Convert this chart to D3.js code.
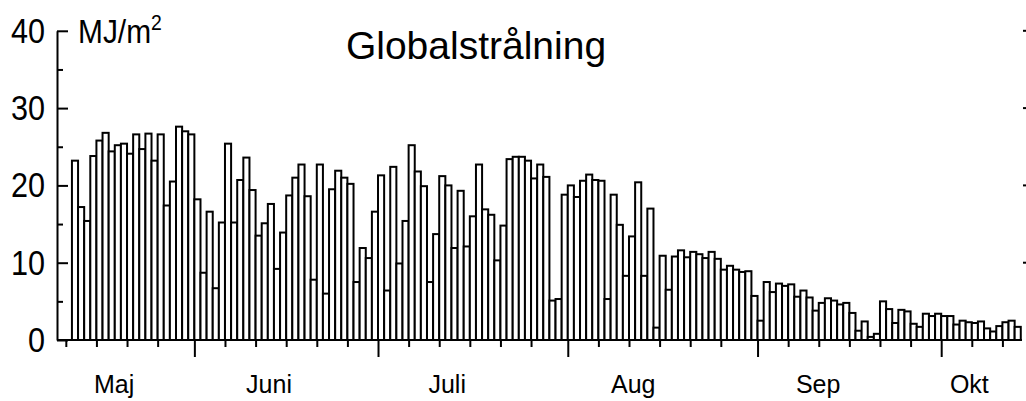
<!DOCTYPE html>
<html>
<head>
<meta charset="utf-8">
<script src="https://cdn.jsdelivr.net/npm/d3@7"></script>
<style>
  body { margin: 0; background: #fff; }
  svg { display: block; }
  text { font-family: "Liberation Sans", Arial, sans-serif; fill: #000; }
</style>
</head>
<body>
<div id="chart"></div>
<script>
// Daily global radiation, MJ/m2, one value per day starting 12 May
var firstDay = 11; // days after 1 May
var radiation = [
    23.2, 17.2, 15.4, 23.8, 25.8, 26.8, 24.4, 25.2, 25.4, 24.1,
    26.6, 24.7, 26.7, 23.2, 26.6, 17.4, 20.5, 27.6, 27.0, 26.6,
    18.2, 8.7, 16.6, 6.7, 15.2, 25.4, 15.2, 20.7, 23.6, 19.4,
    13.5, 15.1, 17.6, 9.2, 13.9, 18.7, 21.0, 22.7, 18.6, 7.8,
    22.7, 6.0, 19.5, 21.9, 21.0, 20.2, 7.5, 11.9, 10.6, 16.6,
    21.3, 6.4, 22.4, 9.9, 15.4, 25.2, 21.8, 19.9, 7.5, 13.7,
    21.2, 20.0, 11.9, 19.3, 12.1, 16.0, 22.7, 16.9, 16.2, 10.3,
    14.8, 23.4, 23.7, 23.7, 23.2, 20.9, 22.7, 21.1, 5.1, 5.3,
    18.8, 20.0, 18.5, 20.6, 21.4, 20.7, 20.6, 5.3, 18.8, 14.9,
    8.3, 13.4, 20.4, 8.3, 17.0, 1.6, 10.9, 6.5, 10.8, 11.6,
    10.7, 11.4, 11.1, 10.6, 11.4, 10.5, 9.1, 9.6, 9.1, 8.8,
    8.9, 5.7, 2.5, 7.5, 6.2, 7.3, 7.0, 7.2, 5.6, 6.4,
    5.5, 3.8, 4.8, 5.4, 5.1, 4.6, 4.8, 3.5, 1.2, 2.4,
    0.4, 0.8, 5.0, 4.0, 2.2, 3.9, 3.7, 2.1, 1.7, 3.4,
    3.1, 3.4, 3.1, 3.1, 2.0, 2.5, 2.3, 2.2, 2.4, 1.5,
    1.1, 1.8, 2.3, 2.5, 1.7
];

// Months on the x-axis and where their names sit (days after 1 May)
var monthNames = ["Maj", "Juni", "Juli", "Aug", "Sep", "Okt"];
var monthLengths = [31, 30, 31, 31, 30, 31];
var monthLabelDays = [17.9, 43.2, 72.3, 102.7, 132.9, 157.6];

var yMajorTicks = [0, 10, 20, 30, 40];
var yMinorTicks = [5, 15, 25, 35];

var width = 1026, height = 401;

var svg = d3.select("#chart")
    .append("svg")
    .attr("width", width)
    .attr("height", height);

// Scales: x in days after 1 May, y in MJ/m2
var x = d3.scaleLinear()
    .domain([8.56, 166.2])
    .range([57, 1022]);

var y = d3.scaleLinear()
    .domain([0, 40])
    .range([340, 30.8]);

// Building the tick days: every month start is a major tick, 6,11,16,21,26 are minor
var majorDays = [], minorDays = [];
var start = 0;
monthLengths.forEach(function (len) {
    majorDays.push(start);
    [5, 10, 15, 20, 25].forEach(function (o) { minorDays.push(start + o); });
    start += len;
});
majorDays = majorDays.filter(function (d) { return d >= x.domain()[0] && d <= x.domain()[1]; });
minorDays = minorDays.filter(function (d) { return d >= x.domain()[0] && d <= x.domain()[1]; });

// Drawing the daily bars
var data = radiation.map(function (v, i) { return { day: firstDay + i, value: v }; });

svg.append("g")
    .selectAll("rect")
    .data(data)
    .join("rect")
    .attr("x", function (d) { return x(d.day); })
    .attr("y", function (d) { return y(d.value); })
    .attr("width", function (d) { return x(d.day + 1) - x(d.day); })
    .attr("height", function (d) { return y(0) - y(d.value); })
    .attr("fill", "#fff")
    .attr("stroke", "#000")
    .attr("stroke-width", 2);

// x-axis with 5-day minor ticks and month major ticks
var xMinor = svg.append("g")
    .attr("transform", "translate(0," + y(0) + ")")
    .call(d3.axisBottom(x).tickValues(minorDays).tickSize(7).tickFormat(""));
var xMajor = svg.append("g")
    .attr("transform", "translate(0," + y(0) + ")")
    .call(d3.axisBottom(x).tickValues(majorDays).tickSize(17).tickFormat("").tickSizeOuter(0));
xMinor.select(".domain").remove();
xMajor.select(".domain").attr("d", "M" + x.range()[0] + ",0H" + x.range()[1]);
xMajor.select(".domain").attr("stroke-width", 2);

// Month names
svg.append("g")
    .selectAll("text")
    .data(monthNames)
    .join("text")
    .attr("x", function (d, i) { return x(monthLabelDays[i]); })
    .attr("y", 393)
    .attr("text-anchor", "middle")
    .style("font-size", "25px")
    .text(function (d) { return d; });

// y-axis: ticks point into the plot
var yMinorG = svg.append("g")
    .attr("transform", "translate(" + x.range()[0] + ",0)")
    .call(d3.axisRight(y).tickValues(yMinorTicks).tickSize(6).tickFormat(""));
var yMajorG = svg.append("g")
    .attr("transform", "translate(" + x.range()[0] + ",0)")
    .call(d3.axisRight(y).tickValues(yMajorTicks).tickSize(11).tickFormat("").tickSizeOuter(0));
yMinorG.select(".domain").remove();
yMajorG.select(".domain").attr("stroke-width", 2);
svg.selectAll("g.tick line").attr("stroke-width", 2);

// Short ticks on the right edge
svg.append("g")
    .selectAll("line")
    .data(yMajorTicks.slice(1))
    .join("line")
    .attr("x1", 1023)
    .attr("x2", 1026)
    .attr("y1", function (d) { return y(d); })
    .attr("y2", function (d) { return y(d); })
    .attr("stroke", "#000")
    .attr("stroke-width", 2);

// y tick labels, a little narrow like the original
svg.append("g")
    .selectAll("text")
    .data(yMajorTicks)
    .join("text")
    .attr("transform", function (d) { return "translate(45," + (y(d) + 12) + ") scale(0.85,1)"; })
    .attr("text-anchor", "end")
    .style("font-size", "36px")
    .text(function (d) { return d; });

// Unit label
var unit = svg.append("text")
    .attr("transform", "translate(78,43) scale(0.88,1)")
    .style("font-size", "34px");
unit.append("tspan").text("MJ/m");
unit.append("tspan")
    .attr("dy", -13)
    .style("font-size", "22px")
    .text("2");

// Chart title
svg.append("text")
    .attr("x", 476)
    .attr("y", 59)
    .attr("text-anchor", "middle")
    .style("font-size", "39px")
    .text("Globalstrålning");
</script>
</body>
</html>
